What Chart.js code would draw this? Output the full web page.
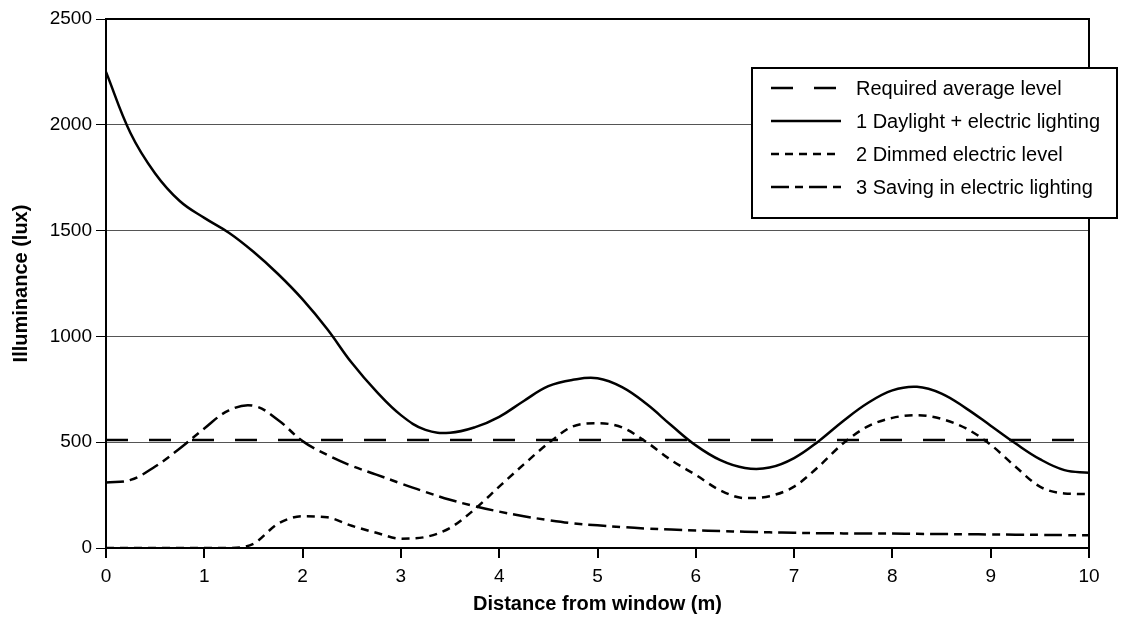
<!DOCTYPE html>
<html>
<head>
<meta charset="utf-8">
<script src="https://cdn.jsdelivr.net/npm/chart.js@4.4.1/dist/chart.umd.min.js"></script>
<style>html,body{margin:0;padding:0;background:#fff;}</style>
</head>
<body>
<canvas id="c" width="1126" height="617"></canvas>
<script>
const distance = [0,0.25,0.5,0.75,1,1.25,1.5,1.75,2,2.25,2.5,2.75,3,3.25,3.5,3.75,4,4.25,4.5,4.75,5,5.25,5.5,5.75,6,6.25,6.5,6.75,7,7.25,7.5,7.75,8,8.25,8.5,8.75,9,9.25,9.5,9.75,10];
const requiredX = [0, 10];
const requiredLevel = [510, 510];
const daylightPlusElectric = [2250,1960,1770,1640,1560,1490,1400,1295,1175,1035,875,740,628,558,545,570,620,695,765,795,802,760,680,580,485,415,378,380,425,505,600,685,745,762,730,660,578,495,420,368,355];
const dimmedElectric = [0,0,0,0,0,0,20,115,150,145,105,72,44,52,95,183,290,395,495,575,590,570,500,415,345,272,236,245,290,385,495,575,615,628,610,565,488,385,290,258,255];
const savingElectric = [310,322,385,470,565,650,672,605,505,440,388,347,305,265,228,198,172,150,132,117,107,99,92,87,83,80,77,74,72,70,69,68,68,67,66,65,64,63,62,61,60];
const xTicks = [0,1,2,3,4,5,6,7,8,9,10];
const yTicks = [0,500,1000,1500,2000,2500];
const seriesLabels = ['Required average level','1 Daylight + electric lighting','2 Dimmed electric level','3 Saving in electric lighting'];

const FONT = "'Liberation Sans', Arial, Helvetica, sans-serif";
const pts = (xs, ys) => xs.map((x, i) => ({x: x, y: ys[i]}));

const dashes = [[22,21], [], [8,6], [18,6,8,6]];

const framePlugin = {
  id: 'frame',
  beforeDatasetsDraw(chart) {
    const {ctx, chartArea: a} = chart;
    ctx.save();
    ctx.strokeStyle = '#000';
    ctx.lineWidth = 2;
    ctx.beginPath();
    ctx.moveTo(a.left, a.top);
    ctx.lineTo(a.right, a.top);
    ctx.lineTo(a.right, a.bottom);
    ctx.stroke();
    ctx.restore();
  }
};

const legendPlugin = {
  id: 'boxLegend',
  afterDraw(chart) {
    const {ctx, chartArea: a} = chart;
    const left = a.right - 337, top = a.top + 49, w = 365, h = 150;
    ctx.save();
    ctx.fillStyle = '#fff';
    ctx.fillRect(left, top, w, h);
    ctx.strokeStyle = '#000';
    ctx.lineWidth = 2;
    ctx.setLineDash([]);
    ctx.strokeRect(left, top, w, h);
    ctx.font = '20px ' + FONT;
    ctx.textBaseline = 'middle';
    ctx.fillStyle = '#000';
    chart.data.datasets.forEach((ds, i) => {
      const y = top + 20 + i * 33;
      ctx.beginPath();
      ctx.setLineDash(ds.borderDash || []);
      ctx.lineWidth = ds.borderWidth;
      ctx.moveTo(left + 19, y);
      ctx.lineTo(left + 89, y);
      ctx.stroke();
      ctx.setLineDash([]);
      ctx.fillText(ds.label, left + 104, y + 1);
    });
    ctx.restore();
  }
};

const common = {borderColor: '#000', borderWidth: 2.5, pointRadius: 0, fill: false};

new Chart(document.getElementById('c'), {
  type: 'line',
  data: {
    datasets: [
      Object.assign({label: seriesLabels[0], data: pts(requiredX, requiredLevel), borderDash: dashes[0], tension: 0}, common),
      Object.assign({label: seriesLabels[1], data: pts(distance, daylightPlusElectric), borderDash: dashes[1], tension: 0.4}, common),
      Object.assign({label: seriesLabels[2], data: pts(distance, dimmedElectric), borderDash: dashes[2], cubicInterpolationMode: 'monotone'}, common),
      Object.assign({label: seriesLabels[3], data: pts(distance, savingElectric), borderDash: dashes[3], tension: 0.4}, common)
    ]
  },
  options: {
    responsive: false,
    animation: false,
    devicePixelRatio: 1,
    layout: {padding: {left: 0, top: 19, right: 37, bottom: 0}},
    plugins: {legend: {display: false}, tooltip: {enabled: false}},
    scales: {
      x: {
        type: 'linear', min: 0, max: 10,
        afterFit(s) { s.height = 69; },
        afterBuildTicks(s) { s.ticks = xTicks.map(v => ({value: v})); },
        grid: {drawOnChartArea: false, drawTicks: true, tickLength: 10, tickColor: '#000', lineWidth: 2},
        border: {display: true, color: '#000', width: 2},
        ticks: {color: '#000', font: {family: FONT, size: 19}, padding: 7, maxRotation: 0, callback: v => String(v)},
        title: {display: true, text: 'Distance from window (m)', color: '#000', font: {family: FONT, size: 20, weight: 'bold'}, padding: {top: 0, bottom: 1}}
      },
      y: {
        type: 'linear', min: 0, max: 2500,
        afterFit(s) { s.width = 106; },
        afterBuildTicks(s) { s.ticks = yTicks.map(v => ({value: v})); },
        grid: {color: '#555', lineWidth: 1, tickLength: 10, tickColor: '#000', drawTicks: true},
        border: {display: true, color: '#000', width: 2},
        ticks: {color: '#000', font: {family: FONT, size: 19}, padding: 4, callback: v => String(v)},
        title: {display: true, text: 'Illuminance (lux)', color: '#000', font: {family: FONT, size: 20, weight: 'bold'}, padding: {top: 9, bottom: 0}}
      }
    }
  },
  plugins: [framePlugin, legendPlugin]
});
</script>
</body>
</html>
